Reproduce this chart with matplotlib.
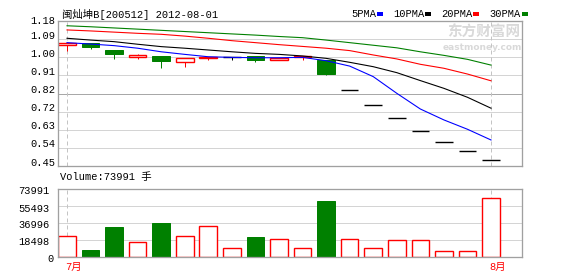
import matplotlib
matplotlib.use('Agg')
import matplotlib.pyplot as plt
from matplotlib.patches import Rectangle
from matplotlib.transforms import offset_copy, blended_transform_factory
import numpy as np

W, H, DPI = 578, 276, 100

# ---------------- data ----------------
title = '闽灿坤B[200512] 2012-08-01'
month_labels = ['7月', '8月']
month_index = [0, 18]

opens = [1.061, 1.068, 1.034, 0.997, 1.004, 0.972, 0.996, 1.001, 1.004, 0.984,
         0.997, 0.984, 0.831, 0.756, 0.690, 0.626, 0.569, 0.524, 0.480]
closes = [1.071, 1.051, 1.014, 1.007, 0.980, 0.992, 1.000, 1.001, 0.984, 0.995,
          1.004, 0.915, 0.831, 0.756, 0.690, 0.626, 0.569, 0.524, 0.480]
highs = [1.071, 1.068, 1.034, 1.014, 1.004, 0.992, 1.000, 1.001, 1.004, 0.995,
         1.004, 0.984, 0.831, 0.756, 0.690, 0.626, 0.569, 0.524, 0.480]
lows = [1.031, 1.040, 0.987, 0.987, 0.942, 0.950, 0.984, 0.984, 0.975, 0.984,
        0.984, 0.908, 0.831, 0.756, 0.690, 0.626, 0.569, 0.524, 0.480]

ma5 = [1.071, 1.064, 1.056, 1.043, 1.025, 1.012, 1.000, 0.997, 0.995, 0.995,
       0.997, 0.980, 0.953, 0.900, 0.816, 0.737, 0.682, 0.635, 0.581]
ma10 = [1.093, 1.084, 1.076, 1.063, 1.051, 1.043, 1.034, 1.025, 1.017, 1.012,
        1.004, 0.992, 0.972, 0.950, 0.920, 0.880, 0.841, 0.796, 0.741]
ma20 = [1.135, 1.130, 1.124, 1.118, 1.113, 1.104, 1.093, 1.081, 1.071, 1.061,
        1.052, 1.043, 1.031, 1.009, 0.989, 0.962, 0.942, 0.913, 0.879]
ma30 = [1.156, 1.151, 1.145, 1.139, 1.133, 1.127, 1.121, 1.115, 1.109, 1.102,
        1.096, 1.084, 1.071, 1.058, 1.045, 1.025, 1.007, 0.987, 0.958]

volumes = [22850, 7940, 32640, 16320, 37000, 22850, 33730, 9790, 21760, 19580,
           9790, 61300, 19580, 9790, 18500, 18500, 6530, 6530, 64200]

price_tick_labels = ['1.18', '1.09', '1.00', '0.91', '0.82', '0.72', '0.63', '0.54', '0.45']
price_top, price_bottom = 1.18, 0.45
vol_tick_values = [73991, 55493, 36996, 18498, 0]
vol_tick_labels = ['73991', '55493', '36996', '18498', '0']
volume_text = 'Volume:73991 手'

ma_names = ['5PMA', '10PMA', '20PMA', '30PMA']
ma_colors = ['#0000ff', '#000000', '#ff0000', '#008000']

# ---------------- styling ----------------
FAM = ['Liberation Mono', 'Noto Sans CJK SC']
FS = 7.5
RED, GREEN = '#ff0000', '#008000'
PX = 72.0 / DPI  # one pixel in points

fig = plt.figure(figsize=(W / DPI, H / DPI), dpi=DPI)
fig.patch.set_facecolor('white')


def px_axes(l, t, r, b):
    return fig.add_axes([l / W, 1 - b / H, (r - l) / W, (b - t) / H])


ax = px_axes(58, 21, 522, 166)
axv = px_axes(58, 189, 522, 257)

n = len(opens)
xs = np.arange(n)
xmin, xmax = -0.382, 19.316
bw = 0.75

for a in (ax, axv):
    a.set_xlim(xmin, xmax)
    a.set_xticks([])
    a.set_yticks([])
    for s in a.spines.values():
        s.set_color('#a0a0a0')
        s.set_linewidth(1.3 * PX)
    for mi in month_index:
        a.axvline(mi, color='#c4c4c4', lw=1 * PX, ls=(0, (4, 3)), zorder=1)

# ---- price panel ----
ax.set_ylim(price_bottom, price_top)
pticks = np.linspace(price_top, price_bottom, len(price_tick_labels))
for k, (v, lab) in enumerate(zip(pticks, price_tick_labels)):
    if 0 < k < len(pticks) - 1:
        col = '#a8a8a8' if k == len(pticks) // 2 else '#d4d4d4'
        ax.axhline(v, color=col, lw=1 * PX, zorder=0.8)
    tr = offset_copy(blended_transform_factory(ax.transAxes, ax.transData),
                     fig=fig, x=-3, y=(0 if k == 0 else 3.5), units='dots')
    ax.text(0, v, lab, transform=tr, ha='right', va='center', fontsize=FS,
            family=FAM, color='#000000', clip_on=False)

for i in range(n):
    o, c, h, l = opens[i], closes[i], highs[i], lows[i]
    if c > o:
        ax.vlines(i, l, o, color=RED, lw=1 * PX, zorder=2)
        ax.vlines(i, c, h, color=RED, lw=1 * PX, zorder=2)
        ax.add_patch(Rectangle((i - bw / 2, o), bw, c - o, facecolor='white',
                               edgecolor=RED, lw=1.4 * PX, zorder=2))
    elif c < o:
        ax.vlines(i, l, h, color=GREEN, lw=1 * PX, zorder=2)
        ax.add_patch(Rectangle((i - bw / 2, c), bw, o - c, facecolor=GREEN,
                               edgecolor=GREEN, lw=1 * PX, zorder=2))
    else:
        ax.vlines(i, l, h, color='black', lw=1 * PX, zorder=2)
        ax.hlines(o, i - bw / 2, i + bw / 2, color='black', lw=1.4 * PX, zorder=2)

for ma, col in zip([ma30, ma20, ma10, ma5], ma_colors[::-1]):
    ax.plot(xs, ma, color=col, lw=1.1 * PX, zorder=3)

# watermark
ax.text(484 / W, 1 - 32 / H, '东方财富网', transform=fig.transFigure, ha='center',
        va='center', fontsize=10.5, fontweight='bold', color='#d9d9d9',
        family=['Noto Sans CJK SC'], zorder=0.5)
ax.text(482 / W, 1 - 47.5 / H, 'eastmoney.com', transform=fig.transFigure, ha='center',
        va='center', fontsize=6.5, fontweight='bold', color='#d9d9d9',
        family=['DejaVu Sans'], zorder=0.5)

# ---- volume panel ----
vmax = max(vol_tick_values)
axv.set_ylim(0, vmax)
for v, lab in zip(vol_tick_values, vol_tick_labels):
    if 0 < v < vmax:
        axv.axhline(v, color='#d4d4d4', lw=1 * PX, zorder=0.8)
    dx = -4 if lab == '0' else -8.5
    tr = offset_copy(blended_transform_factory(axv.transAxes, axv.transData),
                     fig=fig, x=dx, y=-2.5, units='dots')
    axv.text(0, v, lab, transform=tr, ha='right', va='center', fontsize=FS,
             family=FAM, clip_on=False)

for i in range(n):
    if closes[i] >= opens[i]:
        axv.add_patch(Rectangle((i - bw / 2, 0), bw, volumes[i], facecolor='white',
                                edgecolor=RED, lw=1.4 * PX, zorder=2))
    else:
        axv.add_patch(Rectangle((i - bw / 2, 0), bw, volumes[i], facecolor=GREEN,
                                edgecolor=GREEN, lw=1 * PX, zorder=2))

# month labels
for mi, lab in zip(month_index, month_labels):
    tr = offset_copy(blended_transform_factory(axv.transData, fig.transFigure),
                     fig=fig, x=-2, y=0, units='dots')
    axv.text(mi, 1 - 267 / H, lab, transform=tr, ha='left', va='center',
             fontsize=FS, family=FAM, color=RED, clip_on=False)

# ---- texts ----
fig.text(62 / W, 1 - 14 / H, title, ha='left', va='center', fontsize=FS, family=FAM)
fig.text(60 / W, 1 - 177 / H, volume_text, ha='left', va='center', fontsize=FS, family=FAM)

renderer = fig.canvas.get_renderer()
cx = 351
for name, col in zip(ma_names, ma_colors):
    t = fig.text(cx / W, 1 - 14 / H, name, ha='left', va='center', fontsize=FS, family=FAM)
    bb = t.get_window_extent(renderer)
    mx = bb.x1 + 1
    fig.patches.append(Rectangle((mx / W, (H - 15.5) / H), 6 / W, 3 / H,
                                 transform=fig.transFigure, facecolor=col,
                                 edgecolor='none'))
    cx = mx + 6 + 10

fig.savefig('out.png', dpi=DPI, facecolor='white')
